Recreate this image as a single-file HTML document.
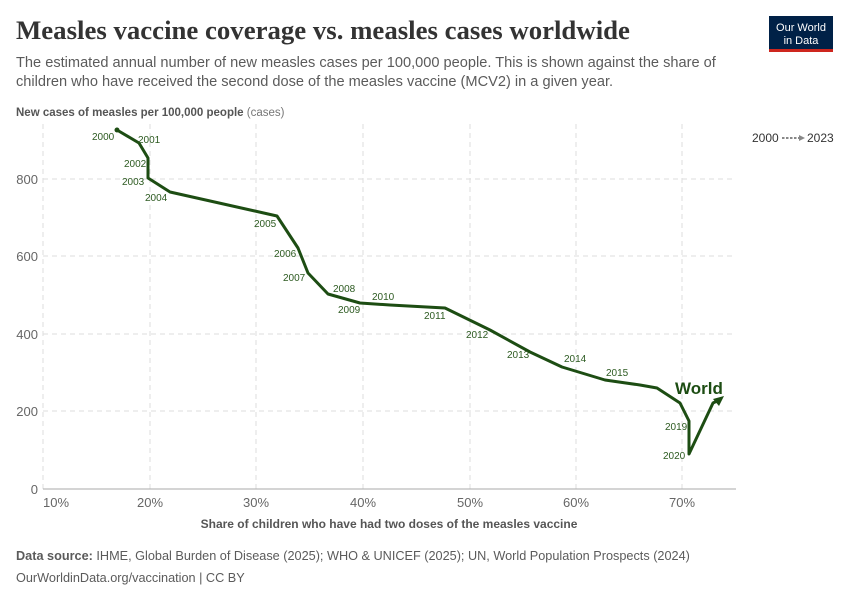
<!DOCTYPE html>
<html><head><meta charset="utf-8"><style>
body{margin:0;background:#fff;font-family:"Liberation Sans",sans-serif;}
svg text{font-family:"Liberation Sans",sans-serif;}
</style></head><body>
<svg width="850" height="600" xmlns="http://www.w3.org/2000/svg">
<text x="16" y="39" font-size="26.8" font-weight="bold" fill="#333" style="font-family:'Liberation Serif',serif">Measles vaccine coverage vs. measles cases worldwide</text>
<rect x="769" y="16" width="64" height="33" fill="#002147"/>
<rect x="769" y="49" width="64" height="3" fill="#ce261e"/>
<text x="801" y="31" font-size="11" fill="#fff" text-anchor="middle">Our World</text>
<text x="801" y="44" font-size="11" fill="#fff" text-anchor="middle">in Data</text>
<text x="16" y="67" font-size="14.6" fill="#5b5b5b">The estimated annual number of new measles cases per 100,000 people. This is shown against the share of</text>
<text x="16" y="86" font-size="14.6" fill="#5b5b5b">children who have received the second dose of the measles vaccine (MCV2) in a given year.</text>
<text x="16" y="116" font-size="11.5" fill="#555"><tspan font-weight="bold">New cases of measles per 100,000 people</tspan> <tspan fill="#777">(cases)</tspan></text>
<text x="752" y="142" font-size="12" fill="#333">2000</text>
<text x="807" y="142" font-size="12" fill="#333">2023</text>
<line x1="782" y1="138" x2="800" y2="138" stroke="#888" stroke-width="2" stroke-dasharray="2.5,1.5"/>
<polygon points="805,138 799,135 799,141" fill="#888"/>
<g stroke="#ddd" stroke-dasharray="5,4">
<line x1="43" y1="124" x2="43" y2="489"/><line x1="150" y1="124" x2="150" y2="489"/><line x1="256" y1="124" x2="256" y2="489"/><line x1="363" y1="124" x2="363" y2="489"/><line x1="470" y1="124" x2="470" y2="489"/><line x1="576" y1="124" x2="576" y2="489"/><line x1="682" y1="124" x2="682" y2="489"/>
<line x1="43" y1="411" x2="736" y2="411"/><line x1="43" y1="334" x2="736" y2="334"/><line x1="43" y1="256" x2="736" y2="256"/><line x1="43" y1="179" x2="736" y2="179"/>
</g>
<line x1="43" y1="489" x2="736" y2="489" stroke="#aaa"/>
<g font-size="13" fill="#666" text-anchor="end">
<text x="38" y="494">0</text><text x="38" y="416">200</text><text x="38" y="339">400</text><text x="38" y="261">600</text><text x="38" y="184">800</text>
</g>
<g font-size="13" fill="#666" text-anchor="middle">
<text x="56" y="507">10%</text><text x="150" y="507">20%</text><text x="256" y="507">30%</text><text x="363" y="507">40%</text><text x="470" y="507">50%</text><text x="576" y="507">60%</text><text x="682" y="507">70%</text>
</g>
<text x="389" y="528" font-size="12" font-weight="bold" fill="#555" text-anchor="middle">Share of children who have had two doses of the measles vaccine</text>
<polyline fill="none" stroke="#1d4d13" stroke-width="3" stroke-linejoin="round" points="117,130 139,143 148,158 148,178 170,192 277,216 298,248 308,273 328,294 360,303 390,305 445,308 490,330 530,352 562,367 605,380 640,385 657,388 680,403 689,421 689,454 713,403 719,400"/>
<circle cx="117" cy="130" r="2.5" fill="#1d4d13"/>
<polygon points="724,396 713,399 719,406" fill="#1d4d13"/>
<text x="675" y="394" font-size="17" font-weight="bold" fill="#1d4d13">World</text>
<g font-size="10" fill="#2c5a20">
<text x="92" y="140">2000</text><text x="138" y="143">2001</text><text x="124" y="167">2002</text><text x="122" y="185">2003</text><text x="145" y="201">2004</text><text x="254" y="227">2005</text><text x="274" y="257">2006</text><text x="283" y="281">2007</text><text x="333" y="292">2008</text><text x="338" y="313">2009</text><text x="372" y="300">2010</text><text x="424" y="319">2011</text><text x="466" y="338">2012</text><text x="507" y="358">2013</text><text x="564" y="362">2014</text><text x="606" y="376">2015</text><text x="665" y="430">2019</text><text x="663" y="459">2020</text>
</g>
<text x="16" y="560" font-size="12.7" fill="#5b5b5b"><tspan font-weight="bold">Data source:</tspan> IHME, Global Burden of Disease (2025); WHO &amp; UNICEF (2025); UN, World Population Prospects (2024)</text>
<text x="16" y="582" font-size="12.7" fill="#5b5b5b">OurWorldinData.org/vaccination | CC BY</text>
</svg>
</body></html>
